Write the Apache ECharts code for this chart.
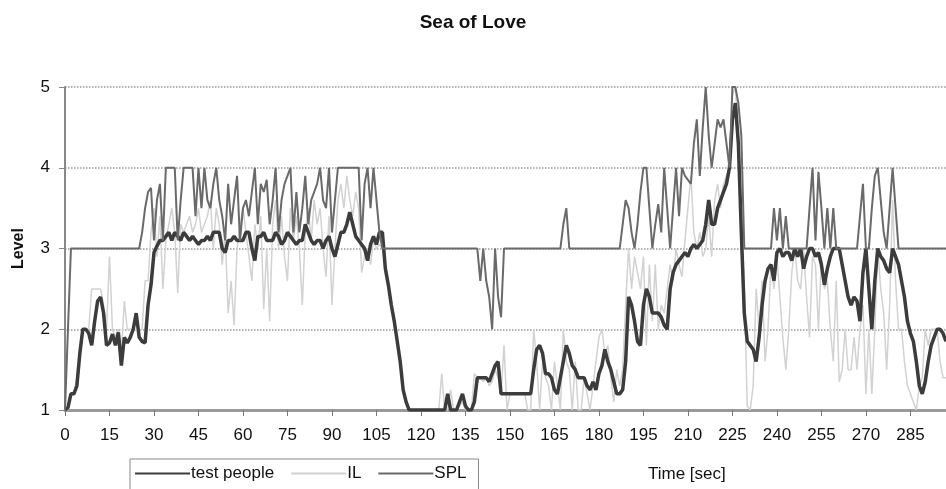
<!DOCTYPE html>
<html>
<head>
<meta charset="utf-8">
<title>Sea of Love</title>
<script src="https://cdn.jsdelivr.net/npm/echarts@6.0.0/dist/echarts.min.js"></script>
<style>
  html, body { margin: 0; padding: 0; background: #fff; }
  #chart { width: 946px; height: 489px; }
</style>
</head>
<body>
<div id="chart"></div>
<script>
// one sample per second, starting at t = 0
const STEP = 1

const testPeople = [
  1, 1.03, 1.2, 1.2, 1.3, 1.7, 2, 2, 1.95, 1.8, 2.1, 2.35, 2.4, 2.2, 1.8,
  1.83, 1.94, 1.8, 1.96, 1.55, 1.9, 1.83, 1.9, 2, 2.2, 1.9, 1.85, 1.83, 2.3, 2.55,
  2.95, 3.03, 3.1, 3.1, 3.15, 3.2, 3.1, 3.2, 3.15, 3.1, 3.2, 3.15, 3.1, 3.15, 3.1,
  3.05, 3.1, 3.1, 3.15, 3.1, 3.2, 3.2, 3.2, 3, 2.95, 3.1, 3.1, 3.15, 3.1, 3.1,
  3.1, 3.2, 3.2, 3, 2.85, 3.15, 3.15, 3.2, 3.1, 3.1, 3.1, 3.2, 3.15, 3.05, 3.1,
  3.2, 3.15, 3.1, 3.05, 3.1, 3.1, 3.3, 3.2, 3.1, 3.05, 3.1, 3.1, 3, 3.1, 3.15,
  3, 2.9, 3.05, 3.2, 3.2, 3.3, 3.45, 3.3, 3.15, 3.1, 3.05, 3, 2.85, 3.05, 3.15,
  3.05, 3.2, 3.2, 2.75, 2.55, 2.3, 2.1, 1.85, 1.6, 1.25, 1.1, 1, 1, 1, 1,
  1, 1, 1, 1, 1, 1, 1, 1, 1, 1.2, 1, 1, 1, 1.1, 1.2,
  1.05, 1, 1, 1.1, 1.4, 1.4, 1.4, 1.4, 1.35, 1.45, 1.55, 1.6, 1.2, 1.2, 1.2,
  1.2, 1.2, 1.2, 1.2, 1.2, 1.2, 1.2, 1.2, 1.5, 1.75, 1.8, 1.7, 1.45, 1.45, 1.4,
  1.25, 1.2, 1.4, 1.6, 1.8, 1.7, 1.55, 1.5, 1.4, 1.4, 1.4, 1.3, 1.25, 1.35, 1.25,
  1.45, 1.55, 1.75, 1.6, 1.5, 1.35, 1.2, 1.2, 1.25, 1.6, 2.4, 2.3, 2.1, 1.85, 1.8,
  2.3, 2.5, 2.4, 2.2, 2.2, 2.2, 2.15, 2.05, 2, 2.5, 2.7, 2.8, 2.85, 2.9, 2.95,
  2.9, 3, 3.05, 3, 3.05, 3.1, 3.3, 3.6, 3.3, 3.3, 3.5, 3.6, 3.7, 3.8, 4,
  4.6, 4.8, 4.3, 3.2, 2.2, 1.85, 1.8, 1.75, 1.6, 1.9, 2.3, 2.6, 2.75, 2.8, 2.6,
  2.95, 3, 2.9, 2.95, 2.95, 2.85, 3, 2.9, 3, 2.75, 2.9, 3, 3, 2.9, 2.95,
  2.8, 2.55, 2.75, 2.9, 3, 3, 3, 2.8, 2.6, 2.4, 2.3, 2.4, 2.35, 2.1, 2.7,
  3, 2.5, 2, 2.6, 3, 2.9, 2.85, 2.75, 2.7, 3, 2.9, 2.8, 2.6, 2.4, 2.1,
  1.95, 1.85, 1.6, 1.3, 1.2, 1.35, 1.6, 1.8, 1.9, 2, 2, 1.95, 1.85,
]

const il = [
  1, 1, 1.2, 1.2, 1.4, 1.8, 2, 2, 2, 2.5, 2.5, 2.5, 2.5, 2.3, 2,
  2.9, 2, 1.9, 2, 1.7, 2.35, 2, 2, 2, 2.2, 2, 2, 2.6, 2.6, 3.2,
  3.5, 2.9, 3.4, 2.5, 3.1, 3.3, 3.5, 3.2, 2.45, 3.3, 3.2, 3.3, 3.4, 3.2, 3.3,
  3.5, 3.2, 3.3, 3.4, 3.6, 3, 3.5, 3.3, 2.8, 3.2, 2.2, 2.6, 2.05, 3, 3.3,
  3.5, 3.2, 2.9, 2.6, 3.3, 3, 3.4, 2.25, 3, 2.1, 3.3, 3.6, 3, 3.4, 2.9,
  2.6, 3.5, 3.1, 3.4, 3, 2.3, 3.2, 3.5, 3.1, 3.6, 3.3, 3.5, 3, 2.65, 3.4,
  2.3, 3, 3.6, 3.8, 3.5, 3.9, 3.6, 3.4, 3.7, 3.5, 2.7, 2.9, 3, 2.8, 3.1,
  3, 3.05, 3, 2.7, 2.5, 2.3, 2.05, 1.9, 1.6, 1.3, 1.1, 1, 1, 1, 1,
  1, 1, 1, 1, 1, 1, 1, 1.45, 1, 1, 1.25, 1, 1, 1.05, 1.1,
  1, 1, 1, 1.45, 1.4, 1.4, 1.35, 1.4, 1.3, 1.35, 1.5, 1.4, 1.2, 1.8, 1,
  1.2, 1.2, 1.2, 1.2, 1.2, 1.2, 1, 1, 2, 1.6, 1, 1.6, 1.4, 1.3, 1,
  1.6, 1.3, 1, 2, 1.6, 1.5, 1, 1.6, 1, 1, 1.4, 1.2, 1, 1.3, 1.6,
  1.9, 2, 1.7, 1.8, 1.4, 1.1, 1.5, 1.3, 1.5, 2.3, 3, 2.5, 2.9, 2.7, 2.5,
  2.9, 1.8, 2.8, 2.1, 2.8, 2, 2.3, 2.2, 2.5, 2.8, 2.6, 3, 2.8, 2.65, 3.1,
  3.5, 3.9, 3.2, 3, 3.2, 2.9, 3, 3.4, 2.9, 3.6, 3.8, 3.5, 3.8, 3.9, 4,
  4.9, 5, 4.4, 3.5, 2.5, 1.05, 1, 1.3, 2.5, 2, 2.6, 1.6, 2, 2.8, 2.5,
  2.9, 2.4, 1.9, 1.5, 2, 2.7, 3, 2.6, 2.5, 3, 2.4, 1.9, 2.9, 2.8, 2,
  2.9, 2.5, 2.6, 2, 1.6, 2.6, 1.35, 1.5, 2, 1.5, 1.5, 1.9, 1.5, 2, 2.3,
  1.2, 2, 1.2, 2, 3, 2.5, 2.2, 1.5, 2.3, 3.6, 2.6, 2, 2, 1.6, 1.3,
  1.2, 1.1, 1, 1.3, 1.4, 2, 1.8, 2, 2, 2, 1.6, 1.4, 1.4,
]

const spl = [
  1, 2, 3, 3, 3, 3, 3, 3, 3, 3, 3, 3, 3, 3, 3,
  3, 3, 3, 3, 3, 3, 3, 3, 3, 3, 3, 3.2, 3.5, 3.7, 3.75,
  3.1, 3.6, 3.8, 3.1, 4, 4, 4, 4, 3.1, 3.6, 4, 4, 4, 4, 3.4,
  4, 3.5, 4, 3.6, 3.5, 3.8, 4, 3.6, 3.4, 3.1, 3.8, 3.3, 3.6, 3.9, 3.1,
  3.5, 3.6, 3.4, 3.7, 4, 3.3, 3.8, 3.7, 3.85, 3.3, 3.6, 4, 3.2, 3.6, 3.8,
  3.9, 4, 3.2, 3.7, 3.2, 3.5, 3.9, 3.3, 3.6, 3.7, 3.8, 4, 3.6, 3.5, 4,
  3.2, 3.6, 4, 4, 4, 4, 4, 4, 4, 4, 3.1, 3.8, 4, 3.5, 4,
  3.6, 3.2, 3, 3, 3, 3, 3, 3, 3, 3, 3, 3, 3, 3, 3,
  3, 3, 3, 3, 3, 3, 3, 3, 3, 3, 3, 3, 3, 3, 3,
  3, 3, 3, 3, 3, 2.6, 3, 2.6, 2.4, 2, 3, 2.4, 2.15, 3, 3,
  3, 3, 3, 3, 3, 3, 3, 3, 3, 3, 3, 3, 3, 3, 3,
  3, 3, 3, 3.3, 3.5, 3, 3, 3, 3, 3, 3, 3, 3, 3, 3,
  3, 3, 3, 3, 3, 3, 3, 3, 3.3, 3.6, 3.5, 3.2, 3, 3.3, 3.7,
  4, 4, 3.5, 3, 3.3, 3.55, 3.2, 4, 3.5, 3, 3.5, 4, 3.4, 4, 3.9,
  3.85, 3.8, 4.3, 4.6, 3.9, 4.5, 5, 4.4, 4, 4.3, 4.6, 4.5, 4.6, 4.3, 4,
  5, 5, 4.8, 4.4, 3, 3, 3, 3, 3, 3, 3, 3, 3, 3, 3.5,
  3.1, 3.5, 3, 3.4, 3, 3, 3, 3, 3, 3, 3, 3.5, 4, 3.1, 3.95,
  3.5, 3, 3.5, 3, 3.5, 3, 3, 3, 3, 3, 3, 3, 3, 3.4, 3.8,
  3, 3, 3.5, 3.9, 4, 3.6, 3.2, 3, 3.5, 4, 3.5, 3, 3, 3, 3,
  3, 3, 3, 3, 3, 3, 3, 3, 3, 3, 3, 3, 3,
]

const FONT = '"Liberation Sans", Arial, sans-serif'
const toPoints = (arr) => arr.map((v, i) => [i * STEP, v])

const chart = echarts.init(document.getElementById('chart'))

chart.setOption({
  animation: false,
  backgroundColor: '#fff',
  textStyle: { fontFamily: FONT, color: '#111' },
  title: {
    text: 'Sea of Love',
    left: 'center',
    top: 8,
    textStyle: { fontFamily: FONT, fontSize: 19, fontWeight: 'bold', color: '#111' },
  },
  legend: {
    left: 130,
    top: 459,
    orient: 'horizontal',
    itemWidth: 55,
    itemHeight: 14,
    itemGap: 16,
    padding: [6, 12, 20, 4],
    borderColor: '#888',
    borderWidth: 1,
    itemStyle: { opacity: 0 },
    textStyle: { fontFamily: FONT, fontSize: 17, color: '#111', padding: [0, 0, 0, -4] },
    data: ['test people', 'IL', 'SPL'],
  },
  graphic: [{
    type: 'text',
    left: 648,
    top: 466,
    style: { text: 'Time [sec]', font: '17px ' + FONT, fill: '#111' },
  }],
  grid: { left: 65, right: 0, top: 87, bottom: 79 },
  xAxis: {
    type: 'value',
    min: 0,
    max: 297,
    interval: 15,
    axisLine: { lineStyle: { color: '#9a9a9a', width: 3 } },
    axisTick: { length: 6, lineStyle: { color: '#777', width: 1 } },
    axisLabel: { margin: 17, fontSize: 17, color: '#111', showMaxLabel: false },
    splitLine: { show: false },
  },
  yAxis: {
    type: 'value',
    min: 1,
    max: 5,
    interval: 1,
    name: 'Level',
    nameLocation: 'middle',
    nameGap: 38,
    nameRotate: 90,
    nameTextStyle: { fontFamily: FONT, fontSize: 16, fontWeight: 'bold', color: '#111' },
    axisLine: { show: true, lineStyle: { color: '#888', width: 2 } },
    axisTick: { show: true, length: 6, lineStyle: { color: '#888' } },
    axisLabel: { margin: 15, fontSize: 17, color: '#111' },
    splitLine: { lineStyle: { color: '#999', type: 'dotted', width: 1.5 } },
  },
  series: [
    {
      name: 'test people',
      type: 'line',
      symbol: 'none',
      z: 3,
      data: toPoints(testPeople),
      lineStyle: { color: '#3c3c3c', width: 3.5 },
      itemStyle: { color: '#3c3c3c' },
    },
    {
      name: 'IL',
      type: 'line',
      symbol: 'none',
      z: 2,
      data: toPoints(il),
      lineStyle: { color: '#d2d2d2', width: 1.5 },
      itemStyle: { color: '#d2d2d2' },
    },
    {
      name: 'SPL',
      type: 'line',
      symbol: 'none',
      z: 4,
      data: toPoints(spl),
      lineStyle: { color: '#6a6a6a', width: 2 },
      itemStyle: { color: '#6a6a6a' },
    },
  ],
})
</script>
</body>
</html>
